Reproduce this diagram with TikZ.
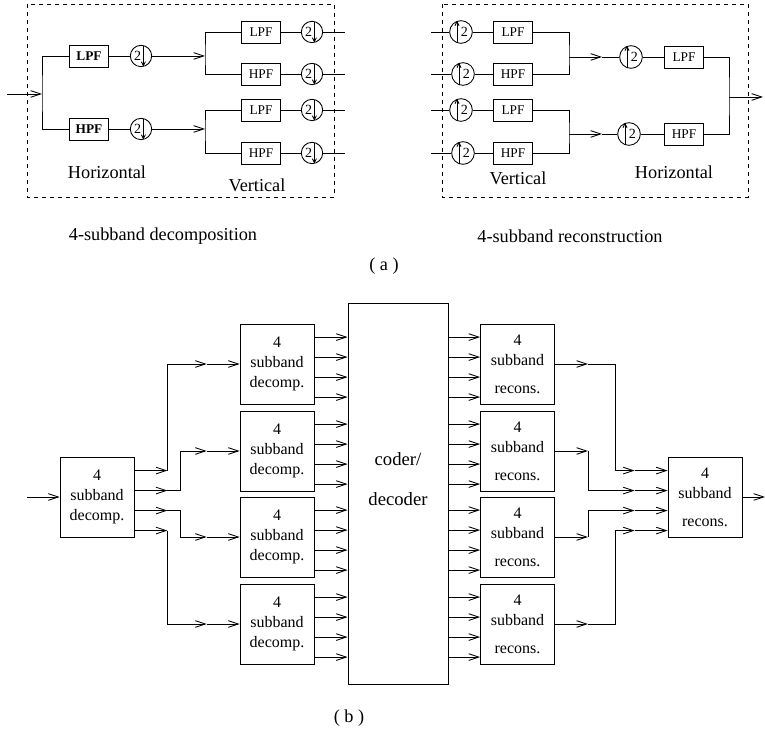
\documentclass[tikz,border=0pt]{standalone}
\usepackage{fontspec}
\setmainfont{Liberation Serif}
\usetikzlibrary{arrows.meta,calc}

\begin{document}
\begin{tikzpicture}[x=0.75pt,y=-0.75pt,line width=0.65pt,
    tip/.style={-{Straight Barb[length=7.5pt,width=5pt]}},
    filt/.style={draw,minimum width=29pt,minimum height=16.5pt,inner sep=0pt,
      font=\fontsize{10}{12}\selectfont},
    bold/.style={font=\fontsize{10}{12}\selectfont\bfseries},
    down2/.style={draw,circle,minimum size=16pt,inner sep=0pt,
      path picture={
        \node[font=\fontsize{10.5}{12}\selectfont] at ([xshift=-2.5pt]path picture bounding box.center) {2};
        \draw[-{Straight Barb[length=3pt,width=3pt]}] ([xshift=1.8pt]path picture bounding box.north)
          -- ([xshift=1.8pt]path picture bounding box.south);}},
    up2/.style={draw,circle,minimum size=17pt,inner sep=0pt,
      path picture={
        \node[font=\fontsize{10.5}{12}\selectfont] at ([xshift=2.5pt]path picture bounding box.center) {2};
        \draw[-{Straight Barb[length=3pt,width=3pt]}] ([xshift=-3pt]path picture bounding box.south)
          -- ([xshift=-3pt]path picture bounding box.north);}},
    lbl/.style={font=\fontsize{13.7}{16}\selectfont},
    sub/.style={draw,minimum width=55.5pt,minimum height=60pt,inner sep=0pt,align=center,
      font=\fontsize{12}{15}\selectfont}]
  \useasboundingbox (0,0) rectangle (765,730);

  % (a) decomposition
  \draw[dashed] (27,4) rectangle (334,197);
  \path (  7, 94) coordinate (inA);
  \path ( 42, 94) coordinate (split);
  \path ( 89, 56) node [filt,bold] (hlpf) {LPF};
  \path (141, 56) node [down2] (hdl) {};
  \path ( 89,129) node [filt,bold] (hhpf) {HPF};
  \path (141,129) node [down2] (hdh) {};
  \path (205, 56) coordinate (ja);
  \path (205,129) coordinate (jb);
  \path (261, 32) node [filt] (vl1) {LPF};
  \path (261, 74) node [filt] (vh1) {HPF};
  \path (261,110) node [filt] (vl2) {LPF};
  \path (261,153) node [filt] (vh2) {HPF};
  \path (312, 32) node [down2] (vd1) {};
  \path (312, 74) node [down2] (vd2) {};
  \path (312,110) node [down2] (vd3) {};
  \path (312,153) node [down2] (vd4) {};
  \path (345, 32) coordinate (oA1);
  \path (345, 74) coordinate (oA2);
  \path (345,110) coordinate (oA3);
  \path (345,153) coordinate (oA4);
  \draw[tip] (inA) -- (split);
  \draw (hlpf.west) -| (split) |- (hhpf.west);
  \draw (hlpf) -- (hdl);
  \draw (hhpf) -- (hdh);
  \draw[tip] (hdl) -- (ja);
  \draw[tip] (hdh) -- (jb);
  \draw (vl1.west) -| (ja) |- (vh1.west);
  \draw (vl2.west) -| (jb) |- (vh2.west);
  \draw (vl1) -- (vd1);
  \draw (vh1) -- (vd2);
  \draw (vl2) -- (vd3);
  \draw (vh2) -- (vd4);
  \draw (vd1) -- (oA1);
  \draw (vd2) -- (oA2);
  \draw (vd3) -- (oA3);
  \draw (vd4) -- (oA4);
  \path (107,172) node [lbl] (hlab) {Horizontal};
  \path (257,185) node [lbl] (vlab) {Vertical};
  \path (163,236) node [lbl] (declab) {4-subband decomposition};

  % (a) reconstruction
  \draw[dashed] (442,4) rectangle (748,197);
  \path (431, 32) coordinate (iB1);
  \path (431, 74) coordinate (iB2);
  \path (431,110) coordinate (iB3);
  \path (431,153) coordinate (iB4);
  \path (461, 32) node [up2] (u1) {};
  \path (463, 74) node [up2] (u2) {};
  \path (461,110) node [up2] (u3) {};
  \path (463,153) node [up2] (u4) {};
  \path (513, 32) node [filt] (rl1) {LPF};
  \path (513, 74) node [filt] (rh1) {HPF};
  \path (513,110) node [filt] (rl2) {LPF};
  \path (513,153) node [filt] (rh2) {HPF};
  \path (569, 57) coordinate (jc);
  \path (569,134) coordinate (jd);
  \path (602, 57) coordinate (ac);
  \path (602,134) coordinate (ad);
  \path (631, 57) node [up2] (hu1) {};
  \path (629,134) node [up2] (hu2) {};
  \path (684, 57) node [filt] (hf1) {LPF};
  \path (684,134) node [filt] (hf2) {HPF};
  \path (729, 97) coordinate (jm);
  \path (763, 97) coordinate (outA);
  \draw (iB1) -- (u1);
  \draw (iB2) -- (u2);
  \draw (iB3) -- (u3);
  \draw (iB4) -- (u4);
  \draw (u1) -- (rl1);
  \draw (u2) -- (rh1);
  \draw (u3) -- (rl2);
  \draw (u4) -- (rh2);
  \draw (rl1.east) -| (jc) |- (rh1.east);
  \draw (rl2.east) -| (jd) |- (rh2.east);
  \draw[tip] (jc) -- (ac);
  \draw[tip] (jd) -- (ad);
  \draw (ac) -- (hu1);
  \draw (ad) -- (hu2);
  \draw (hu1) -- (hf1);
  \draw (hu2) -- (hf2);
  \draw (hf1.east) -| (jm) |- (hf2.east);
  \draw[tip] (jm) -- (outA);
  \path (518,178) node [lbl] (vlab2) {Vertical};
  \path (674,172) node [lbl] (hlab2) {Horizontal};
  \path (570,236) node [lbl] (reclab) {4-subband reconstruction};
  \path (384,266) node [lbl] (alab) {( a )};

  % (b)
  \path ( 97,497) node [sub] (dc0) {4\\subband\\decomp.};
  \path (705,497) node [sub] (rc0) {4\\subband\\[6pt]recons.};
  \foreach \n/\y in {1/364,2/451,3/537,4/624} {
    \path (277,\y) node [sub] (dc\n) {4\\subband\\decomp.};
    \path (517.5,\y) node [sub] (rc\n) {4\\subband\\[6pt]recons.};
  }
  \path (398,493.5) node [draw,minimum width=75pt,minimum height=285.75pt,
    label={[font=\fontsize{14}{17}\selectfont,align=center,yshift=11pt]center:coder/\\[13pt]decoder}] (coder) {};

  % decomp -> coder -> recons
  \foreach \n in {1,...,4} {
    \foreach \k in {0,...,3} {
      \path ($(dc\n.north east)+(0,13.5+20*\k)$) coordinate (p);
      \draw[tip] (p) -- (p -| coder.west);
      \path ($(rc\n.north west)+(0,13.5+20*\k)$) coordinate (q);
      \draw[tip] (q -| coder.east) -- (q);
    }
  }

  % first split
  \path (27,497) coordinate (inB);
  \draw[tip] (inB) -- (dc0.west);
  \foreach \i/\cx in {1/167,2/180,3/180,4/167} {
    \path ($(dc0.north east)+(0,-6+20*\i)$) coordinate (o\i);
    \path ($(o\i)+(33,0)$) coordinate (t\i);
    \path ($(o\i)+(\cx-134,0)$) coordinate (c\i);
    \path ($(dc\i.west)+(-33,0)$) coordinate (m\i);
    \draw[tip] (o\i) -- (t\i);
    \draw[tip] (t\i) -- (c\i) |- (m\i);
    \draw[tip] (m\i) -- (dc\i.west);
  }

  % last merge
  \foreach \i/\cx in {1/614,2/587,3/587,4/614} {
    \path ($(rc\i.east)+(33,0)$) coordinate (e\i);
    \path ($(rc\i.east)+(\cx-554,0)$) coordinate (g\i);
    \path ($(rc0.north west)+(0,-6+20*\i)$) coordinate (v\i);
    \path ($(v\i)+(-33,0)$) coordinate (w\i);
    \draw[tip] (rc\i.east) -- (e\i);
    \draw[tip] (e\i) -- (g\i) |- (w\i);
    \draw[tip] (w\i) -- (v\i);
  }
  \path (765,497) coordinate (outB);
  \draw[tip] (rc0.east) -- (outB);
  \path (349,718) node [lbl] (blab) {( b )};
\end{tikzpicture}
\end{document}
